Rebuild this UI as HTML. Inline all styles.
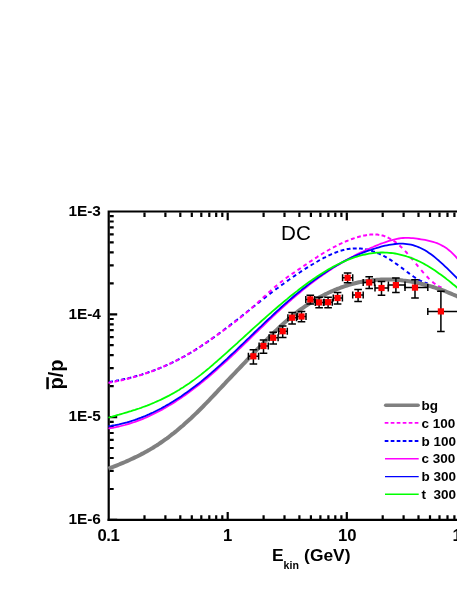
<!DOCTYPE html>
<html><head><meta charset="utf-8"><title>DC</title>
<style>html,body{margin:0;padding:0;background:#fff;}body{width:457px;height:591px;overflow:hidden;position:relative;}</style>
</head><body>
<svg width="457" height="591" viewBox="0 0 457 591" style="position:absolute;left:0;top:0">
<g stroke="#000" stroke-width="2.2" fill="none" stroke-linecap="butt">
<path d="M108.7 521.0V211.5H459"/>
<path d="M107.60000000000001 519.9H459"/>
</g>
<g stroke="#000" stroke-width="2.2" fill="none">
<path d="M144.5 518.9V515.3M144.5 212.5V216.9M165.4 518.9V515.3M165.4 212.5V216.9M180.3 518.9V515.3M180.3 212.5V216.9M191.8 518.9V515.3M191.8 212.5V216.9M201.3 518.9V515.3M201.3 212.5V216.9M209.3 518.9V515.3M209.3 212.5V216.9M216.2 518.9V515.3M216.2 212.5V216.9M222.3 518.9V515.3M222.3 212.5V216.9M227.7 518.9V511.9M227.7 212.5V220.3M263.6 518.9V515.3M263.6 212.5V216.9M284.5 518.9V515.3M284.5 212.5V216.9M299.4 518.9V515.3M299.4 212.5V216.9M310.9 518.9V515.3M310.9 212.5V216.9M320.4 518.9V515.3M320.4 212.5V216.9M328.4 518.9V515.3M328.4 212.5V216.9M335.3 518.9V515.3M335.3 212.5V216.9M341.4 518.9V515.3M341.4 212.5V216.9M346.8 518.9V511.9M346.8 212.5V220.3M382.7 518.9V515.3M382.7 212.5V216.9M403.6 518.9V515.3M403.6 212.5V216.9M418.5 518.9V515.3M418.5 212.5V216.9M430.0 518.9V515.3M430.0 212.5V216.9M439.5 518.9V515.3M439.5 212.5V216.9M447.5 518.9V515.3M447.5 212.5V216.9M454.4 518.9V515.3M454.4 212.5V216.9M109.7 519.9H117.2M109.7 489.0H113.7M109.7 470.9H113.7M109.7 458.0H113.7M109.7 448.0H113.7M109.7 439.9H113.7M109.7 433.0H113.7M109.7 427.1H113.7M109.7 421.8H113.7M109.7 417.1H117.2M109.7 386.2H113.7M109.7 368.1H113.7M109.7 355.2H113.7M109.7 345.2H113.7M109.7 337.1H113.7M109.7 330.2H113.7M109.7 324.3H113.7M109.7 319.0H113.7M109.7 314.3H117.2M109.7 283.4H113.7M109.7 265.3H113.7M109.7 252.4H113.7M109.7 242.4H113.7M109.7 234.3H113.7M109.7 227.4H113.7M109.7 221.5H113.7M109.7 216.2H113.7"/>
</g>
<g fill="none" stroke-linejoin="round">
<path d="M109.1 382.0 L110.1 381.8 L111.0 381.7 L112.0 381.5 L112.9 381.3M115.2 380.9 L116.2 380.8 L117.1 380.6 L118.1 380.4 L119.1 380.2M121.4 379.8 L122.3 379.6 L123.3 379.3 L124.2 379.1 L125.2 378.9M127.5 378.4 L128.4 378.2 L129.4 377.9 L130.3 377.7 L131.3 377.5M133.6 376.9 L134.5 376.6 L135.5 376.3 L136.4 376.1 L137.3 375.8M139.7 375.1 L140.6 374.9 L141.6 374.6 L142.5 374.3 L143.4 374.0M145.8 373.2 L146.7 372.9 L147.6 372.6 L148.5 372.3 L149.5 372.0M151.8 371.1 L152.8 370.8 L153.7 370.5 L154.6 370.1 L155.5 369.8M157.9 368.8 L158.8 368.5 L159.7 368.1 L160.6 367.8 L161.5 367.4M164.0 366.4 L164.9 366.0 L165.7 365.6 L166.6 365.2 L167.5 364.8M170.0 363.7 L170.9 363.3 L171.7 362.8 L172.6 362.4 L173.5 362.0M176.0 360.8 L176.9 360.3 L177.7 359.9 L178.6 359.4 L179.5 359.0M182.0 357.7 L182.8 357.2 L183.7 356.7 L184.5 356.3 L185.4 355.8M187.9 354.3 L188.8 353.8 L189.6 353.4 L190.5 352.9 L191.3 352.4M193.9 350.8 L194.7 350.3 L195.5 349.8 L196.4 349.2 L197.2 348.7M199.8 347.0 L200.6 346.5 L201.4 346.0 L202.2 345.4 L203.0 344.9M205.7 343.1 L206.5 342.6 L207.3 342.0 L208.1 341.4 L208.9 340.9M211.5 339.0 L212.3 338.4 L213.1 337.9 L213.9 337.3 L214.7 336.7M217.4 334.8 L218.2 334.2 L218.9 333.6 L219.7 333.0 L220.5 332.5M223.2 330.4 L224.0 329.8 L224.7 329.2 L225.5 328.7 L226.3 328.1M229.0 326.0 L229.8 325.4 L230.5 324.8 L231.3 324.2 L232.1 323.6M234.8 321.5 L235.6 320.9 L236.3 320.3 L237.1 319.7 L237.9 319.1M240.6 316.9 L241.4 316.3 L242.1 315.7 L242.9 315.1 L243.6 314.5M246.4 312.3 L247.1 311.7 L247.9 311.1 L248.7 310.5 L249.4 309.9M252.2 307.7 L252.9 307.1 L253.7 306.5 L254.5 305.9 L255.2 305.3M257.9 303.2 L258.7 302.6 L259.5 302.0 L260.2 301.3 L261.0 300.7M263.7 298.6 L264.5 298.0 L265.3 297.4 L266.0 296.8 L266.8 296.2M269.5 294.1 L270.3 293.5 L271.1 292.9 L271.9 292.3 L272.6 291.8M275.4 289.7 L276.1 289.1 L276.9 288.5 L277.7 288.0 L278.5 287.4M281.2 285.4 L282.0 284.8 L282.8 284.2 L283.5 283.7 L284.3 283.1M287.0 281.2 L287.8 280.6 L288.6 280.0 L289.4 279.5 L290.2 278.9M292.9 277.0 L293.7 276.5 L294.5 275.9 L295.3 275.4 L296.1 274.8M298.8 273.1 L299.6 272.5 L300.4 272.0 L301.2 271.4 L302.0 270.9M304.7 269.2 L305.5 268.7 L306.3 268.2 L307.1 267.6 L308.0 267.1M310.6 265.5 L311.4 265.0 L312.2 264.5 L313.1 264.0 L313.9 263.5M316.5 262.0 L317.4 261.5 L318.2 261.0 L319.0 260.5 L319.9 260.0M322.5 258.6 L323.3 258.2 L324.2 257.7 L325.1 257.3 L325.9 256.8M328.5 255.6 L329.3 255.2 L330.2 254.8 L331.1 254.4 L332.0 254.0M334.5 253.0 L335.4 252.6 L336.3 252.3 L337.2 251.9 L338.2 251.6M340.6 250.8 L341.5 250.6 L342.4 250.3 L343.4 250.1 L344.3 249.8M346.7 249.3 L347.6 249.1 L348.6 249.0 L349.6 248.8 L350.5 248.7M352.8 248.5 L353.8 248.4 L354.8 248.4 L355.7 248.4 L356.7 248.4M359.0 248.4 L359.9 248.5 L360.9 248.6 L361.9 248.7 L362.8 248.8M365.1 249.2 L366.1 249.4 L367.0 249.6 L368.0 249.8 L368.9 250.1M371.2 250.8 L372.1 251.0 L373.1 251.4 L374.0 251.7 L374.9 252.0M377.3 253.0 L378.2 253.3 L379.1 253.7 L380.0 254.1 L380.8 254.6M383.3 255.8 L384.2 256.2 L385.0 256.7 L385.9 257.2 L386.7 257.7M389.2 259.2 L390.1 259.7 L390.9 260.2 L391.7 260.7 L392.5 261.3M395.1 263.0 L395.9 263.6 L396.7 264.1 L397.5 264.7 L398.3 265.3M401.0 267.3 L401.8 267.9 L402.5 268.4 L403.3 269.0 L404.1 269.6M406.8 271.7 L407.6 272.3 L408.4 272.9 L409.1 273.4 L409.9 274.0M412.6 275.9 L413.4 276.5 L414.2 277.0 L415.1 277.6 L415.9 278.1M418.5 279.6 L419.4 280.1 L420.3 280.6 L421.1 281.0 L422.0 281.4M424.6 282.4 L425.3 282.7 L426.1 282.9 L426.9 283.1 L427.6 283.3" stroke="#0000ff" stroke-width="2.0"/>
<path d="M108.4 382.8 L109.4 382.7 L110.3 382.5 L111.3 382.3 L112.2 382.1M114.5 381.7 L115.5 381.5 L116.4 381.3 L117.4 381.1 L118.3 380.9M120.6 380.4 L121.6 380.2 L122.6 380.0 L123.5 379.7 L124.4 379.5M126.8 379.0 L127.7 378.7 L128.7 378.5 L129.6 378.2 L130.5 378.0M132.9 377.3 L133.8 377.1 L134.7 376.8 L135.7 376.6 L136.6 376.3M139.0 375.6 L139.9 375.3 L140.8 375.0 L141.8 374.7 L142.7 374.4M145.1 373.6 L146.0 373.3 L146.9 373.0 L147.8 372.7 L148.7 372.4M151.1 371.5 L152.0 371.2 L153.0 370.8 L153.9 370.5 L154.8 370.1M157.2 369.2 L158.1 368.8 L159.0 368.5 L159.9 368.1 L160.8 367.7M163.2 366.7 L164.1 366.3 L165.0 365.9 L165.9 365.5 L166.8 365.1M169.3 364.0 L170.1 363.6 L171.0 363.2 L171.9 362.7 L172.8 362.3M175.3 361.1 L176.1 360.7 L177.0 360.2 L177.9 359.8 L178.7 359.3M181.2 358.0 L182.1 357.5 L183.0 357.0 L183.8 356.6 L184.7 356.1M187.2 354.7 L188.1 354.2 L188.9 353.7 L189.7 353.2 L190.6 352.7M193.1 351.1 L194.0 350.6 L194.8 350.1 L195.6 349.6 L196.4 349.0M199.1 347.4 L199.9 346.8 L200.7 346.3 L201.5 345.7 L202.3 345.2M204.9 343.4 L205.7 342.9 L206.5 342.3 L207.4 341.8 L208.2 341.2M210.8 339.4 L211.6 338.8 L212.4 338.3 L213.2 337.7 L214.0 337.2M216.7 335.3 L217.5 334.7 L218.3 334.2 L219.1 333.6 L219.9 333.0M222.5 331.1 L223.3 330.6 L224.1 330.0 L224.9 329.4 L225.7 328.9M228.4 326.9 L229.1 326.3 L229.9 325.8 L230.7 325.2 L231.5 324.6M234.2 322.5 L235.0 321.9 L235.7 321.3 L236.5 320.7 L237.3 320.1M240.0 318.0 L240.7 317.3 L241.5 316.7 L242.2 316.1 L243.0 315.5M245.7 313.2 L246.5 312.5 L247.2 311.9 L247.9 311.3 L248.7 310.6M251.4 308.2 L252.2 307.6 L252.9 306.9 L253.6 306.3 L254.4 305.6M257.1 303.1 L257.9 302.5 L258.6 301.8 L259.3 301.1 L260.0 300.5M262.8 297.9 L263.5 297.2 L264.2 296.6 L265.0 295.9 L265.7 295.3M268.5 292.7 L269.2 292.0 L269.9 291.4 L270.7 290.7 L271.4 290.1M274.2 287.6 L274.9 287.0 L275.7 286.3 L276.4 285.7 L277.2 285.1M279.9 282.8 L280.7 282.2 L281.5 281.6 L282.3 281.0 L283.0 280.4M285.8 278.4 L286.5 277.8 L287.3 277.2 L288.1 276.7 L288.9 276.1M291.6 274.2 L292.4 273.7 L293.2 273.1 L294.0 272.6 L294.8 272.0M297.5 270.2 L298.3 269.7 L299.1 269.1 L299.9 268.6 L300.7 268.0M303.4 266.2 L304.2 265.7 L305.0 265.1 L305.8 264.6 L306.6 264.0M309.2 262.2 L310.0 261.7 L310.9 261.2 L311.7 260.6 L312.5 260.1M315.1 258.3 L315.9 257.8 L316.8 257.3 L317.6 256.7 L318.4 256.2M321.0 254.6 L321.9 254.0 L322.7 253.5 L323.5 253.0 L324.4 252.5M327.0 251.0 L327.8 250.5 L328.6 250.0 L329.5 249.5 L330.3 249.0M332.9 247.6 L333.8 247.2 L334.6 246.7 L335.5 246.3 L336.4 245.8M338.9 244.6 L339.8 244.1 L340.7 243.7 L341.5 243.3 L342.4 242.9M344.9 241.8 L345.8 241.4 L346.7 241.0 L347.6 240.7 L348.5 240.3M351.0 239.4 L351.9 239.0 L352.8 238.7 L353.7 238.4 L354.7 238.1M357.1 237.3 L358.0 237.1 L358.9 236.8 L359.9 236.5 L360.8 236.3M363.2 235.7 L364.1 235.5 L365.1 235.4 L366.0 235.2 L367.0 235.0M369.3 234.7 L370.3 234.6 L371.2 234.6 L372.2 234.5 L373.2 234.5M375.4 234.5 L376.4 234.6 L377.4 234.6 L378.4 234.8 L379.3 234.9M381.6 235.3 L382.5 235.6 L383.5 235.8 L384.4 236.1 L385.3 236.5M387.7 237.4 L388.5 237.9 L389.4 238.3 L390.3 238.8 L391.1 239.2M393.6 240.8 L394.4 241.4 L395.2 241.9 L396.0 242.5 L396.7 243.1M399.4 245.4 L400.1 246.0 L400.8 246.7 L401.5 247.3 L402.2 248.0M405.0 250.9 L405.7 251.6 L406.3 252.3 L407.0 253.0 L407.6 253.8M410.5 257.1 L411.1 257.8 L411.7 258.6 L412.3 259.3 L413.0 260.1M415.9 263.6 L416.5 264.4 L417.1 265.1 L417.7 265.9 L418.3 266.6M421.2 270.1 L421.9 270.9 L422.5 271.6 L423.1 272.4 L423.8 273.1M426.7 276.3 L427.4 277.0 L428.1 277.7 L428.7 278.4 L429.4 279.1M432.3 281.8 L433.1 282.4 L433.8 283.0 L434.6 283.6 L435.4 284.2M438.2 286.0 L439.0 286.4 L439.9 286.8 L440.8 287.2 L441.6 287.5" stroke="#ff00ff" stroke-width="2.0"/>
<path d="M108.4 428.4 L109.0 428.4 L111.0 428.0 L113.0 427.7 L115.0 427.3 L117.0 426.9 L119.0 426.5 L121.0 426.0 L123.0 425.5 L125.0 425.0 L127.0 424.4 L129.0 423.8 L131.0 423.2 L133.0 422.5 L135.0 421.9 L137.0 421.1 L139.0 420.4 L141.0 419.6 L143.0 418.8 L145.0 418.0 L147.0 417.1 L149.0 416.2 L151.0 415.3 L153.0 414.3 L155.0 413.3 L157.0 412.3 L159.0 411.3 L161.0 410.2 L163.0 409.1 L165.0 407.9 L167.0 406.8 L169.0 405.6 L171.0 404.4 L173.0 403.2 L175.0 401.9 L177.0 400.6 L179.0 399.3 L181.0 397.9 L183.0 396.6 L185.0 395.2 L187.0 393.7 L189.0 392.3 L191.0 390.8 L193.0 389.3 L195.0 387.8 L197.0 386.3 L199.0 384.7 L201.0 383.1 L203.0 381.5 L205.0 379.8 L207.0 378.2 L209.0 376.5 L211.0 374.8 L213.0 373.0 L215.0 371.3 L217.0 369.5 L219.0 367.7 L221.0 365.9 L223.0 364.1 L225.0 362.3 L227.0 360.5 L229.0 358.6 L231.0 356.8 L233.0 354.9 L235.0 353.0 L237.0 351.1 L239.0 349.2 L241.0 347.3 L243.0 345.4 L245.0 343.4 L247.0 341.5 L249.0 339.6 L251.0 337.6 L253.0 335.7 L255.0 333.7 L257.0 331.8 L259.0 329.9 L261.0 327.9 L263.0 326.0 L265.0 324.1 L267.0 322.1 L269.0 320.2 L271.0 318.3 L273.0 316.4 L275.0 314.5 L277.0 312.7 L279.0 310.8 L281.0 308.9 L283.0 307.1 L285.0 305.3 L287.0 303.5 L289.0 301.7 L291.0 300.0 L293.0 298.2 L295.0 296.5 L297.0 294.8 L299.0 293.2 L301.0 291.5 L303.0 289.9 L305.0 288.3 L307.0 286.7 L309.0 285.1 L311.0 283.6 L313.0 282.1 L315.0 280.6 L317.0 279.1 L319.0 277.6 L321.0 276.2 L323.0 274.8 L325.0 273.4 L327.0 272.1 L329.0 270.7 L331.0 269.4 L333.0 268.1 L335.0 266.8 L337.0 265.6 L339.0 264.4 L341.0 263.2 L343.0 262.0 L345.0 260.8 L347.0 259.7 L349.0 258.6 L351.0 257.5 L353.0 256.5 L355.0 255.4 L357.0 254.4 L359.0 253.4 L361.0 252.4 L363.0 251.5 L365.0 250.5 L367.0 249.6 L369.0 248.7 L371.0 247.8 L373.0 247.0 L375.0 246.1 L377.0 245.3 L379.0 244.5 L381.0 243.7 L383.0 243.0 L385.0 242.3 L387.0 241.6 L389.0 240.9 L391.0 240.3 L393.0 239.8 L395.0 239.3 L397.0 238.9 L399.0 238.5 L401.0 238.2 L403.0 238.0 L405.0 237.9 L407.0 237.9 L409.0 237.9 L411.0 238.1 L413.0 238.2 L415.0 238.4 L417.0 238.7 L419.0 239.0 L421.0 239.3 L423.0 239.6 L425.0 239.9 L427.0 240.3 L429.0 240.8 L431.0 241.3 L433.0 241.8 L435.0 242.5 L437.0 243.2 L439.0 244.0 L441.0 245.0 L443.0 246.1 L445.0 247.3 L447.0 248.6 L449.0 250.2 L451.0 251.9 L453.0 253.8 L455.0 255.8 L457.0 258.1 L458.0 259.3" stroke="#ff00ff" stroke-width="1.8"/>
<path d="M108.4 426.2 L109.0 426.2 L111.0 425.9 L113.0 425.5 L115.0 425.2 L117.0 424.8 L119.0 424.4 L121.0 423.9 L123.0 423.4 L125.0 422.9 L127.0 422.4 L129.0 421.8 L131.0 421.2 L133.0 420.5 L135.0 419.9 L137.0 419.2 L139.0 418.4 L141.0 417.7 L143.0 416.9 L145.0 416.1 L147.0 415.2 L149.0 414.4 L151.0 413.4 L153.0 412.5 L155.0 411.5 L157.0 410.5 L159.0 409.5 L161.0 408.5 L163.0 407.4 L165.0 406.3 L167.0 405.1 L169.0 404.0 L171.0 402.8 L173.0 401.6 L175.0 400.3 L177.0 399.0 L179.0 397.7 L181.0 396.4 L183.0 395.0 L185.0 393.6 L187.0 392.2 L189.0 390.8 L191.0 389.3 L193.0 387.8 L195.0 386.3 L197.0 384.7 L199.0 383.2 L201.0 381.6 L203.0 379.9 L205.0 378.3 L207.0 376.6 L209.0 374.9 L211.0 373.2 L213.0 371.4 L215.0 369.7 L217.0 367.9 L219.0 366.1 L221.0 364.3 L223.0 362.5 L225.0 360.6 L227.0 358.8 L229.0 356.9 L231.0 355.0 L233.0 353.2 L235.0 351.3 L237.0 349.4 L239.0 347.4 L241.0 345.5 L243.0 343.6 L245.0 341.7 L247.0 339.7 L249.0 337.8 L251.0 335.9 L253.0 334.0 L255.0 332.0 L257.0 330.1 L259.0 328.2 L261.0 326.3 L263.0 324.3 L265.0 322.4 L267.0 320.5 L269.0 318.6 L271.0 316.8 L273.0 314.9 L275.0 313.0 L277.0 311.2 L279.0 309.4 L281.0 307.5 L283.0 305.7 L285.0 303.9 L287.0 302.2 L289.0 300.4 L291.0 298.7 L293.0 297.0 L295.0 295.3 L297.0 293.6 L299.0 292.0 L301.0 290.4 L303.0 288.7 L305.0 287.2 L307.0 285.6 L309.0 284.1 L311.0 282.6 L313.0 281.1 L315.0 279.6 L317.0 278.2 L319.0 276.8 L321.0 275.4 L323.0 274.0 L325.0 272.7 L327.0 271.4 L329.0 270.1 L331.0 268.8 L333.0 267.6 L335.0 266.4 L337.0 265.2 L339.0 264.1 L341.0 263.0 L343.0 261.9 L345.0 260.9 L347.0 259.8 L349.0 258.8 L351.0 257.9 L353.0 256.9 L355.0 256.0 L357.0 255.1 L359.0 254.3 L361.0 253.5 L363.0 252.7 L365.0 251.9 L367.0 251.2 L369.0 250.4 L371.0 249.8 L373.0 249.1 L375.0 248.5 L377.0 247.9 L379.0 247.3 L381.0 246.7 L383.0 246.2 L385.0 245.7 L387.0 245.3 L389.0 244.9 L391.0 244.6 L393.0 244.3 L395.0 244.0 L397.0 243.8 L399.0 243.7 L401.0 243.7 L403.0 243.7 L405.0 243.9 L407.0 244.1 L409.0 244.3 L411.0 244.7 L413.0 245.2 L415.0 245.8 L417.0 246.5 L419.0 247.3 L421.0 248.2 L423.0 249.2 L425.0 250.3 L427.0 251.6 L429.0 252.9 L431.0 254.3 L433.0 255.8 L435.0 257.4 L437.0 259.1 L439.0 260.8 L441.0 262.6 L443.0 264.4 L445.0 266.3 L447.0 268.2 L449.0 270.2 L451.0 272.1 L453.0 274.1 L455.0 276.1 L457.0 278.1 L458.0 279.1" stroke="#0000ff" stroke-width="1.8"/>
<path d="M108.4 417.7 L109.0 417.5 L111.0 417.0 L113.0 416.4 L115.0 415.8 L117.0 415.2 L119.0 414.7 L121.0 414.1 L123.0 413.5 L125.0 412.9 L127.0 412.3 L129.0 411.7 L131.0 411.1 L133.0 410.4 L135.0 409.8 L137.0 409.1 L139.0 408.5 L141.0 407.8 L143.0 407.0 L145.0 406.3 L147.0 405.6 L149.0 404.8 L151.0 404.0 L153.0 403.2 L155.0 402.3 L157.0 401.4 L159.0 400.5 L161.0 399.6 L163.0 398.6 L165.0 397.6 L167.0 396.6 L169.0 395.6 L171.0 394.5 L173.0 393.4 L175.0 392.2 L177.0 391.1 L179.0 389.9 L181.0 388.6 L183.0 387.4 L185.0 386.1 L187.0 384.7 L189.0 383.4 L191.0 382.0 L193.0 380.6 L195.0 379.1 L197.0 377.6 L199.0 376.1 L201.0 374.6 L203.0 373.0 L205.0 371.4 L207.0 369.7 L209.0 368.1 L211.0 366.4 L213.0 364.7 L215.0 362.9 L217.0 361.2 L219.0 359.4 L221.0 357.7 L223.0 355.9 L225.0 354.1 L227.0 352.3 L229.0 350.5 L231.0 348.7 L233.0 346.9 L235.0 345.1 L237.0 343.3 L239.0 341.4 L241.0 339.6 L243.0 337.8 L245.0 336.0 L247.0 334.2 L249.0 332.3 L251.0 330.5 L253.0 328.7 L255.0 326.9 L257.0 325.1 L259.0 323.3 L261.0 321.5 L263.0 319.7 L265.0 318.0 L267.0 316.2 L269.0 314.4 L271.0 312.7 L273.0 310.9 L275.0 309.2 L277.0 307.5 L279.0 305.8 L281.0 304.1 L283.0 302.4 L285.0 300.7 L287.0 299.1 L289.0 297.4 L291.0 295.8 L293.0 294.2 L295.0 292.6 L297.0 291.1 L299.0 289.5 L301.0 288.0 L303.0 286.5 L305.0 285.0 L307.0 283.5 L309.0 282.1 L311.0 280.7 L313.0 279.3 L315.0 277.9 L317.0 276.6 L319.0 275.3 L321.0 274.0 L323.0 272.7 L325.0 271.5 L327.0 270.3 L329.0 269.1 L331.0 268.0 L333.0 266.9 L335.0 265.8 L337.0 264.8 L339.0 263.8 L341.0 262.9 L343.0 261.9 L345.0 261.1 L347.0 260.2 L349.0 259.4 L351.0 258.6 L353.0 257.9 L355.0 257.2 L357.0 256.6 L359.0 256.0 L361.0 255.4 L363.0 254.9 L365.0 254.5 L367.0 254.1 L369.0 253.7 L371.0 253.4 L373.0 253.1 L375.0 252.9 L377.0 252.7 L379.0 252.6 L381.0 252.5 L383.0 252.5 L385.0 252.6 L387.0 252.6 L389.0 252.8 L391.0 253.0 L393.0 253.2 L395.0 253.5 L397.0 253.9 L399.0 254.3 L401.0 254.8 L403.0 255.3 L405.0 255.8 L407.0 256.5 L409.0 257.1 L411.0 257.9 L413.0 258.6 L415.0 259.5 L417.0 260.4 L419.0 261.3 L421.0 262.3 L423.0 263.3 L425.0 264.4 L427.0 265.6 L429.0 266.8 L431.0 268.0 L433.0 269.3 L435.0 270.6 L437.0 272.0 L439.0 273.4 L441.0 274.8 L443.0 276.3 L445.0 277.8 L447.0 279.4 L449.0 280.9 L451.0 282.5 L453.0 284.2 L455.0 285.8 L457.0 287.5 L458.0 288.3" stroke="#00ff00" stroke-width="1.8"/>
<path d="M108.4 468.6 L109.0 468.4 L111.0 467.6 L113.0 466.9 L115.0 466.1 L117.0 465.3 L119.0 464.5 L121.0 463.6 L123.0 462.8 L125.0 462.0 L127.0 461.1 L129.0 460.2 L131.0 459.3 L133.0 458.4 L135.0 457.4 L137.0 456.5 L139.0 455.5 L141.0 454.4 L143.0 453.4 L145.0 452.3 L147.0 451.2 L149.0 450.1 L151.0 448.9 L153.0 447.7 L155.0 446.4 L157.0 445.2 L159.0 443.9 L161.0 442.5 L163.0 441.1 L165.0 439.7 L167.0 438.3 L169.0 436.8 L171.0 435.2 L173.0 433.7 L175.0 432.1 L177.0 430.5 L179.0 428.8 L181.0 427.1 L183.0 425.4 L185.0 423.6 L187.0 421.8 L189.0 420.0 L191.0 418.2 L193.0 416.3 L195.0 414.4 L197.0 412.5 L199.0 410.5 L201.0 408.5 L203.0 406.5 L205.0 404.4 L207.0 402.4 L209.0 400.3 L211.0 398.2 L213.0 396.1 L215.0 394.0 L217.0 391.9 L219.0 389.7 L221.0 387.6 L223.0 385.5 L225.0 383.4 L227.0 381.2 L229.0 379.1 L231.0 377.0 L233.0 374.9 L235.0 372.8 L237.0 370.7 L239.0 368.6 L241.0 366.5 L243.0 364.4 L245.0 362.3 L247.0 360.2 L249.0 358.1 L251.0 356.0 L253.0 353.9 L255.0 351.8 L257.0 349.7 L259.0 347.6 L261.0 345.5 L263.0 343.5 L265.0 341.4 L267.0 339.4 L269.0 337.4 L271.0 335.4 L273.0 333.4 L275.0 331.5 L277.0 329.6 L279.0 327.7 L281.0 325.8 L283.0 324.0 L285.0 322.2 L287.0 320.4 L289.0 318.7 L291.0 317.0 L293.0 315.4 L295.0 313.8 L297.0 312.2 L299.0 310.7 L301.0 309.2 L303.0 307.8 L305.0 306.4 L307.0 305.0 L309.0 303.7 L311.0 302.4 L313.0 301.2 L315.0 300.0 L317.0 298.8 L319.0 297.6 L321.0 296.5 L323.0 295.5 L325.0 294.4 L327.0 293.5 L329.0 292.5 L331.0 291.6 L333.0 290.7 L335.0 289.8 L337.0 289.0 L339.0 288.3 L341.0 287.5 L343.0 286.8 L345.0 286.1 L347.0 285.5 L349.0 284.9 L351.0 284.3 L353.0 283.8 L355.0 283.3 L357.0 282.8 L359.0 282.3 L361.0 281.9 L363.0 281.6 L365.0 281.2 L367.0 280.9 L369.0 280.6 L371.0 280.4 L373.0 280.1 L375.0 280.0 L377.0 279.8 L379.0 279.7 L381.0 279.6 L383.0 279.5 L385.0 279.5 L387.0 279.5 L389.0 279.5 L391.0 279.5 L393.0 279.6 L395.0 279.7 L397.0 279.9 L399.0 280.0 L401.0 280.2 L403.0 280.5 L405.0 280.7 L407.0 281.0 L409.0 281.3 L411.0 281.6 L413.0 282.0 L415.0 282.4 L417.0 282.8 L419.0 283.2 L421.0 283.7 L423.0 284.2 L425.0 284.7 L427.0 285.2 L429.0 285.8 L431.0 286.4 L433.0 287.0 L435.0 287.6 L437.0 288.3 L439.0 289.0 L441.0 289.7 L443.0 290.4 L445.0 291.2 L447.0 292.0 L449.0 292.8 L451.0 293.6 L453.0 294.5 L455.0 295.3 L457.0 296.2 L458.0 296.7" stroke="#808080" stroke-width="4"/>
</g>
<g stroke="#000" stroke-width="1.5" fill="none">
<path d="M253.4 349.7V364.1M249.6 349.7H257.2M249.6 364.1H257.2M248.4 356.3H258.6M248.4 352.8V359.8M258.6 352.8V359.8"/>
<path d="M263.5 340.0V353.3M259.7 340.0H267.3M259.7 353.3H267.3M259.1 346.0H268.3M259.1 342.5V349.5M268.3 342.5V349.5"/>
<path d="M273.2 332.3V344.1M269.4 332.3H277.0M269.4 344.1H277.0M269.1 337.8H278.1M269.1 334.3V341.3M278.1 334.3V341.3"/>
<path d="M282.7 326.0V337.4M278.9 326.0H286.5M278.9 337.4H286.5M278.7 331.2H287.3M278.7 327.7V334.7M287.3 327.7V334.7"/>
<path d="M292.1 312.5V324.0M288.3 312.5H295.9M288.3 324.0H295.9M287.9 317.7H296.5M287.9 314.2V321.2M296.5 314.2V321.2"/>
<path d="M301.5 311.6V321.7M297.7 311.6H305.3M297.7 321.7H305.3M297.2 316.5H306.0M297.2 313.0V320.0M306.0 313.0V320.0"/>
<path d="M310.3 295.2V304.0M306.5 295.2H314.1M306.5 304.0H314.1M305.8 299.4H314.7M305.8 295.9V302.9M314.7 295.9V302.9"/>
<path d="M319.1 297.2V307.7M315.3 297.2H322.9M315.3 307.7H322.9M315.3 302.4H323.5M315.3 298.9V305.9M323.5 298.9V305.9"/>
<path d="M328.1 297.2V307.7M324.3 297.2H331.9M324.3 307.7H331.9M324.1 302.2H332.3M324.1 298.7V305.7M332.3 298.7V305.7"/>
<path d="M337.6 292.4V303.9M333.8 292.4H341.4M333.8 303.9H341.4M333.3 298.0H342.4M333.3 294.5V301.5M342.4 294.5V301.5"/>
<path d="M347.6 273.1V282.7M343.8 273.1H351.4M343.8 282.7H351.4M342.6 277.8H352.7M342.6 274.3V281.3M352.7 274.3V281.3"/>
<path d="M358.1 289.5V301.4M354.3 289.5H361.9M354.3 301.4H361.9M352.7 295.0H363.2M352.7 291.5V298.5M363.2 291.5V298.5"/>
<path d="M369.2 276.8V288.6M365.4 276.8H373.0M365.4 288.6H373.0M363.2 282.5H374.6M363.2 279.0V286.0M374.6 279.0V286.0"/>
<path d="M381.5 281.6V295.2M377.7 281.6H385.3M377.7 295.2H385.3M375.0 288.0H388.3M375.0 284.5V291.5M388.3 284.5V291.5"/>
<path d="M395.9 278.0V292.5M392.1 278.0H399.7M392.1 292.5H399.7M388.4 285.1H405.0M388.4 281.6V288.6M405.0 281.6V288.6"/>
<path d="M415.0 279.7V298.0M411.2 279.7H418.8M411.2 298.0H418.8M405.0 287.6H427.8M405.0 284.1V291.1M427.8 284.1V291.1"/>
<path d="M440.9 291.3V331.5M437.1 291.3H444.7M437.1 331.5H444.7M427.8 311.4H470.0M427.8 307.9V314.9M470.0 307.9V314.9"/>
</g>
<g fill="#ff0000">
<rect x="250.3" y="353.2" width="6.2" height="6.2"/>
<rect x="260.4" y="342.9" width="6.2" height="6.2"/>
<rect x="270.1" y="334.7" width="6.2" height="6.2"/>
<rect x="279.6" y="328.1" width="6.2" height="6.2"/>
<rect x="289.0" y="314.6" width="6.2" height="6.2"/>
<rect x="298.4" y="313.4" width="6.2" height="6.2"/>
<rect x="307.2" y="296.3" width="6.2" height="6.2"/>
<rect x="316.0" y="299.3" width="6.2" height="6.2"/>
<rect x="325.0" y="299.1" width="6.2" height="6.2"/>
<rect x="334.5" y="294.9" width="6.2" height="6.2"/>
<rect x="344.5" y="274.7" width="6.2" height="6.2"/>
<rect x="355.0" y="291.9" width="6.2" height="6.2"/>
<rect x="366.1" y="279.4" width="6.2" height="6.2"/>
<rect x="378.4" y="284.9" width="6.2" height="6.2"/>
<rect x="392.8" y="282.0" width="6.2" height="6.2"/>
<rect x="411.9" y="284.5" width="6.2" height="6.2"/>
<rect x="437.8" y="308.3" width="6.2" height="6.2"/>
</g>
<path d="M385.7 405.2H418.09999999999997" stroke="#808080" stroke-width="3.6" stroke-linecap="round"/>
<path d="M384.7 422.9H419.7" stroke="#ff00ff" stroke-width="1.9" stroke-dasharray="3.7 2.3"/>
<path d="M384.7 441.0H419.7" stroke="#0000ff" stroke-width="1.9" stroke-dasharray="3.7 2.3"/>
<path d="M385.0 458.8H418.7" stroke="#ff00ff" stroke-width="1.4"/>
<path d="M385.0 476.6H418.7" stroke="#0000ff" stroke-width="1.4"/>
<path d="M385.0 494.3H418.7" stroke="#00ff00" stroke-width="1.4"/>
<g font-family="Liberation Sans, Arial, sans-serif" fill="#000" font-weight="bold">
<text x="100.9" y="215.9" font-size="15.4" text-anchor="end">1E-3</text>
<text x="100.9" y="318.5" font-size="15.4" text-anchor="end">1E-4</text>
<text x="100.9" y="421.0" font-size="15.4" text-anchor="end">1E-5</text>
<text x="100.9" y="523.5" font-size="15.4" text-anchor="end">1E-6</text>
<text x="108.4" y="541.3" font-size="16.7" letter-spacing="-0.45" text-anchor="middle">0.1</text>
<text x="227.7" y="541.3" font-size="16.7" letter-spacing="0" text-anchor="middle">1</text>
<text x="347.2" y="541.3" font-size="16.7" letter-spacing="0" text-anchor="middle">10</text>
<text x="466.4" y="541.3" font-size="16.7" letter-spacing="0" text-anchor="middle">100</text>
<text x="421.5" y="409.8" font-size="13.5" xml:space="preserve">bg</text>
<text x="421.5" y="427.5" font-size="13.5" xml:space="preserve">c 100</text>
<text x="421.5" y="445.6" font-size="13.5" xml:space="preserve">b 100</text>
<text x="421.5" y="463.4" font-size="13.5" xml:space="preserve">c 300</text>
<text x="421.5" y="481.2" font-size="13.5" xml:space="preserve">b 300</text>
<text x="421.5" y="498.9" font-size="13.5" xml:space="preserve">t  300</text>
<text x="272.0" y="561.2" font-size="17.4">E<tspan font-size="10.6" dy="7.4">kin</tspan><tspan dy="-7.4" dx="5.2">(GeV)</tspan></text>
<text transform="translate(62.8 389.4) rotate(-90)" font-size="20">p/p</text>
<rect x="46.3" y="377.2" width="2.5" height="12"/>
</g>
<text x="281.1" y="240.3" font-family="Liberation Sans, Arial, sans-serif" font-size="20.6" fill="#000">DC</text>
</svg>
</body></html>
